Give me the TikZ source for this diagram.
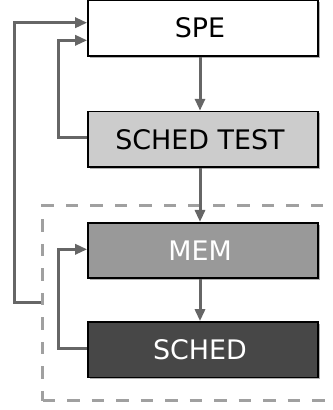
\documentclass[tikz,border=0pt]{standalone}
\usepackage{fontspec}
\setmainfont{DejaVu Sans}
\usetikzlibrary{arrows.meta,shadows,calc}
\definecolor{arrgray}{HTML}{666666}
\definecolor{dashgray}{HTML}{A0A0A0}
\definecolor{stfill}{HTML}{CCCCCC}
\definecolor{memfill}{HTML}{999999}
\definecolor{schedfill}{HTML}{474747}
\tikzset{
  blk/.style={draw=black, line width=1.6bp, minimum width=230bp, minimum height=55.5bp,
    inner sep=0pt, font=\fontsize{27}{31}\selectfont,
    drop shadow={shadow xshift=1.8bp, shadow yshift=-1.8bp, fill=black, opacity=0.3}},
  arr/.style={draw=arrgray, line width=3bp, -{Triangle[length=12bp,width=10bp]}},
  grpbox/.style={draw=dashgray, line width=3bp, dash pattern=on 12.5bp off 12bp,
    minimum width=300bp, minimum height=195bp, inner sep=0pt}
}
\begin{document}
\begin{tikzpicture}[x=1bp,y=-1bp]
\useasboundingbox (0,0) rectangle (333,410);
\node[grpbox] (grp) at (192.7,303.4) {};
\node[blk, fill=white] (spe) at (203,28) {\hspace*{-6bp}SPE};
\node[blk, fill=stfill] (st) at (203,139.3) {\hspace*{-6bp}SCHED TEST};
\node[blk, fill=memfill, text=white] (mem) at (203,250.5) {\hspace*{-6bp}MEM};
\node[blk, fill=schedfill, text=white] (sched) at (203,349.7) {\hspace*{-6bp}SCHED};
\draw[arr] ($(spe.south)+(-3,0)$) -- ($(st.north)+(-3,0)$);
\draw[arr] ($(st.south)+(-3,0)$) -- ($(mem.north)+(-3,0)$);
\draw[arr] ($(mem.south)+(-3,0)$) -- ($(sched.north)+(-3,0)$);
\draw[arr] ($(st.west)+(0,-2)$) -| (58,130) |- ($(spe.west)+(0,12.3)$);
\draw[arr] ($(sched.west)+(0,-1.4)$) -| (58,300) |- ($(mem.west)+(0,-1.2)$);
\draw[arr] ($(grp.west)+(0,-1)$) -| (14,100) |- ($(spe.west)+(0,-5.3)$);
\end{tikzpicture}
\end{document}
